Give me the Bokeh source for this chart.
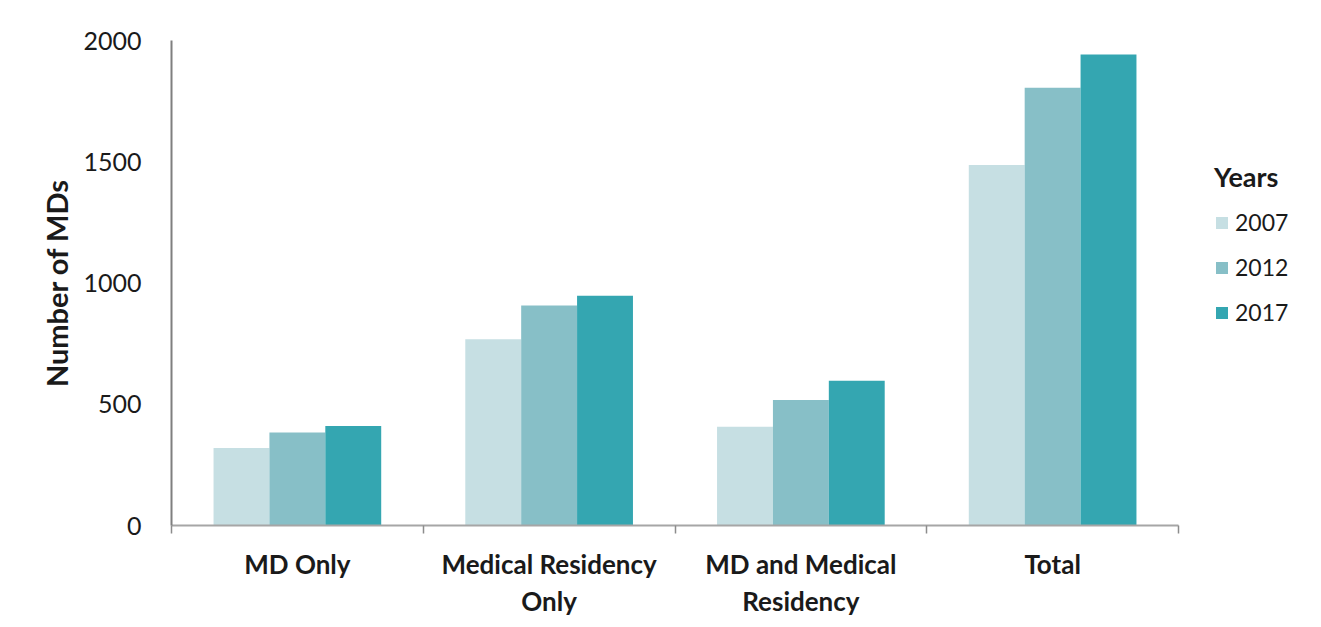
from bokeh.plotting import figure
from bokeh.models import Range1d, FixedTicker, Legend, LegendItem, ColumnDataSource
from bokeh.transform import dodge
from bokeh.embed import file_html
from bokeh.resources import INLINE

categories = ["MD Only", "Medical Residency\nOnly", "MD and Medical\nResidency", "Total"]
years = ["2007", "2012", "2017"]
v2007 = [320, 768, 407, 1487]
v2012 = [383, 907, 518, 1805]
v2017 = [410, 947, 597, 1942]
colors = ["#C6DFE3", "#87BFC7", "#34A6B1"]

FONT = "Lato"
n = len(categories)
idx = list(range(n))
src = ColumnDataSource(dict(i=[k + 0.5 for k in idx], v2007=v2007, v2012=v2012, v2017=v2017))

W, H = 1313, 623
LEFT, RIGHT, TOP, BOTTOM = 171, 8, 40, 98
AXIS_PX = 1007  # pixel length of the category axis
frame_w = W - LEFT - RIGHT
p = figure(width=W, height=H, output_backend="svg", toolbar_location=None,
           x_range=Range1d(0, n * frame_w / AXIS_PX), y_range=Range1d(0, 2000))
p.min_border_left = LEFT
p.min_border_right = RIGHT
p.min_border_top = TOP
p.min_border_bottom = BOTTOM
p.outline_line_color = None
p.grid.visible = False
p.background_fill_color = "white"
p.border_fill_color = "white"

bw = 0.222
renderers = []
for j, (yr, col) in enumerate(zip(years, colors)):
    r = p.vbar(x=dodge("i", (j - 1) * bw, range=p.x_range), top="v" + yr, width=bw,
               bottom=0, source=src, fill_color=col, line_color=None)
    renderers.append(r)

# y axis
ya = p.yaxis[0]
ya.ticker = FixedTicker(ticks=[0, 500, 1000, 1500, 2000])
ya.axis_line_color = "#7F7F7F"
ya.axis_line_width = 2
ya.major_tick_line_color = None
ya.minor_tick_line_color = None
ya.major_label_text_font = FONT
ya.major_label_text_font_size = "25px"
ya.major_label_text_color = "#1A1A1A"
ya.major_label_standoff = 24
ya.axis_label = "Number of MDs"
ya.axis_label_text_font = FONT
ya.axis_label_text_font_style = "bold"
ya.axis_label_text_font_size = "29px"
ya.axis_label_text_color = "#1A1A1A"
ya.axis_label_standoff = 6

# x axis
xa = p.xaxis[0]
xa.bounds = (0, n)
xa.ticker = FixedTicker(ticks=[k + 0.5 for k in idx], minor_ticks=list(range(n + 1)))
xa.major_label_overrides = {k + 0.5: c for k, c in zip(idx, categories)}
xa.axis_line_color = "#A6A6A6"
xa.axis_line_width = 2
xa.major_tick_line_color = None
xa.minor_tick_line_color = "#8C8C8C"
xa.minor_tick_line_width = 1.5
xa.minor_tick_out = 8
xa.minor_tick_in = 0
xa.major_label_text_font = FONT
xa.major_label_text_font_style = "bold"
xa.major_label_text_font_size = "26px"
xa.major_label_text_color = "#1A1A1A"
xa.major_label_text_line_height = 1.16
xa.major_label_standoff = 14

legend = Legend(items=[LegendItem(label=yr, renderers=[r]) for yr, r in zip(years, renderers)],
                location=(1043, 198), title="Years")
legend.title_text_font = FONT
legend.title_text_font_style = "bold"
legend.title_text_font_size = "27px"
legend.title_text_color = "#1A1A1A"
legend.title_standoff = 14
legend.label_text_font = FONT
legend.label_text_font_size = "23px"
legend.label_text_color = "#1A1A1A"
legend.glyph_width = 15
legend.glyph_height = 15
legend.label_standoff = 6
legend.label_height = 30
legend.spacing = 15
legend.padding = 0
legend.margin = 0
legend.border_line_color = None
legend.background_fill_alpha = 0
p.add_layout(legend, "center")

open("out.html", "w").write(file_html(p, INLINE))
